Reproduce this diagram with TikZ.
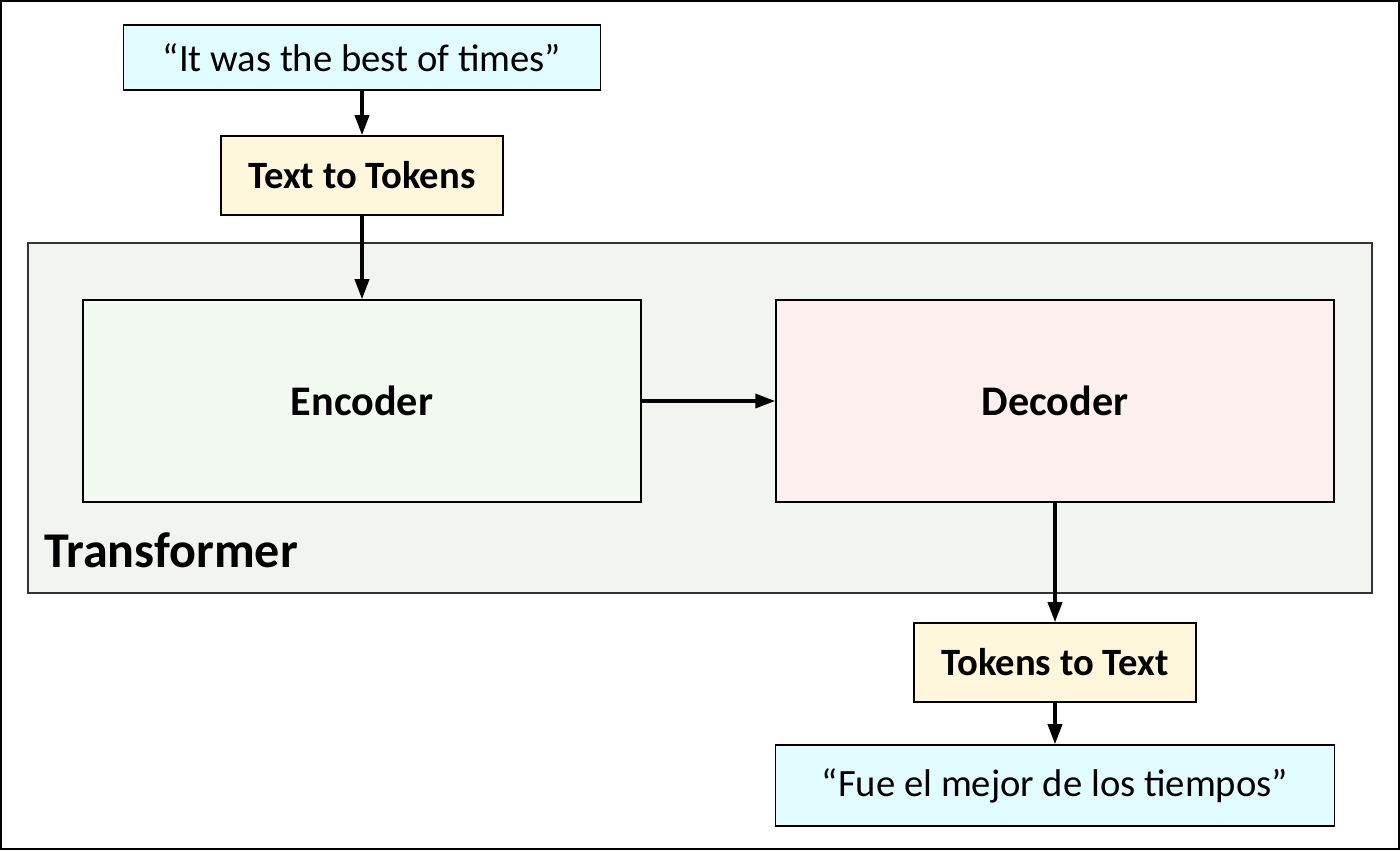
\documentclass[tikz,border=0pt]{standalone}
\usepackage{fontspec}
\setmainfont{Carlito}
\usetikzlibrary{arrows.meta}
\definecolor{quotefill}{HTML}{E2FDFF}
\definecolor{tokfill}{HTML}{FEF7DC}
\definecolor{transfill}{HTML}{F2F4F0}
\definecolor{encfill}{HTML}{F2FAF2}
\definecolor{decfill}{HTML}{FFF0F0}
\begin{document}
\begin{tikzpicture}[x=0.02cm,y=-0.02cm,
        box/.style={draw,line width=0.9pt,inner sep=0pt},
        quote/.style={box,fill=quotefill,font=\fontsize{22}{26}\selectfont},
        tok/.style={box,fill=tokfill,minimum width=5.64cm,minimum height=1.58cm,font=\bfseries\fontsize{22}{26}\selectfont},
        coder/.style={box,minimum width=11.16cm,minimum height=4.04cm,font=\bfseries\fontsize{24}{28}\selectfont},
        arr/.style={line width=2pt,-{Triangle[length=0.4cm,width=0.28cm]}}]
        \useasboundingbox (0,0) rectangle (1400,850);
        \draw[line width=0.8pt] (1,1) rectangle (1399,849);

        \node[box,fill=transfill,draw=black!80,minimum width=26.88cm,minimum height=7cm] (trans) at (700,418) {};
        \node[anchor=base west,font=\bfseries\fontsize{28.5}{32}\selectfont] (translabel) at (38,567) {Transformer};

        \node[quote,minimum width=9.54cm,minimum height=1.3cm] (src) at (362,57.5) {``It was the best of times''};
        \node[tok] (t2t) at (362,175.5) {Text to Tokens};
        \node[coder,fill=encfill] (enc) at (362,401) {Encoder};
        \node[coder,fill=decfill] (dec) at (1055,401) {Decoder};
        \node[tok] (tok2t) at (1055,662.5) {Tokens to Text};
        \node[quote,minimum width=11.18cm,minimum height=1.62cm] (dst) at (1055,785.5) {``Fue el mejor de los tiempos''};

        \draw[arr] (src) -- (t2t);
        \draw[arr] (t2t) -- (enc);
        \draw[arr] (enc) -- (dec);
        \draw[arr] (dec) -- (tok2t);
        \draw[arr] (tok2t) -- (dst);
    \end{tikzpicture}
\end{document}
